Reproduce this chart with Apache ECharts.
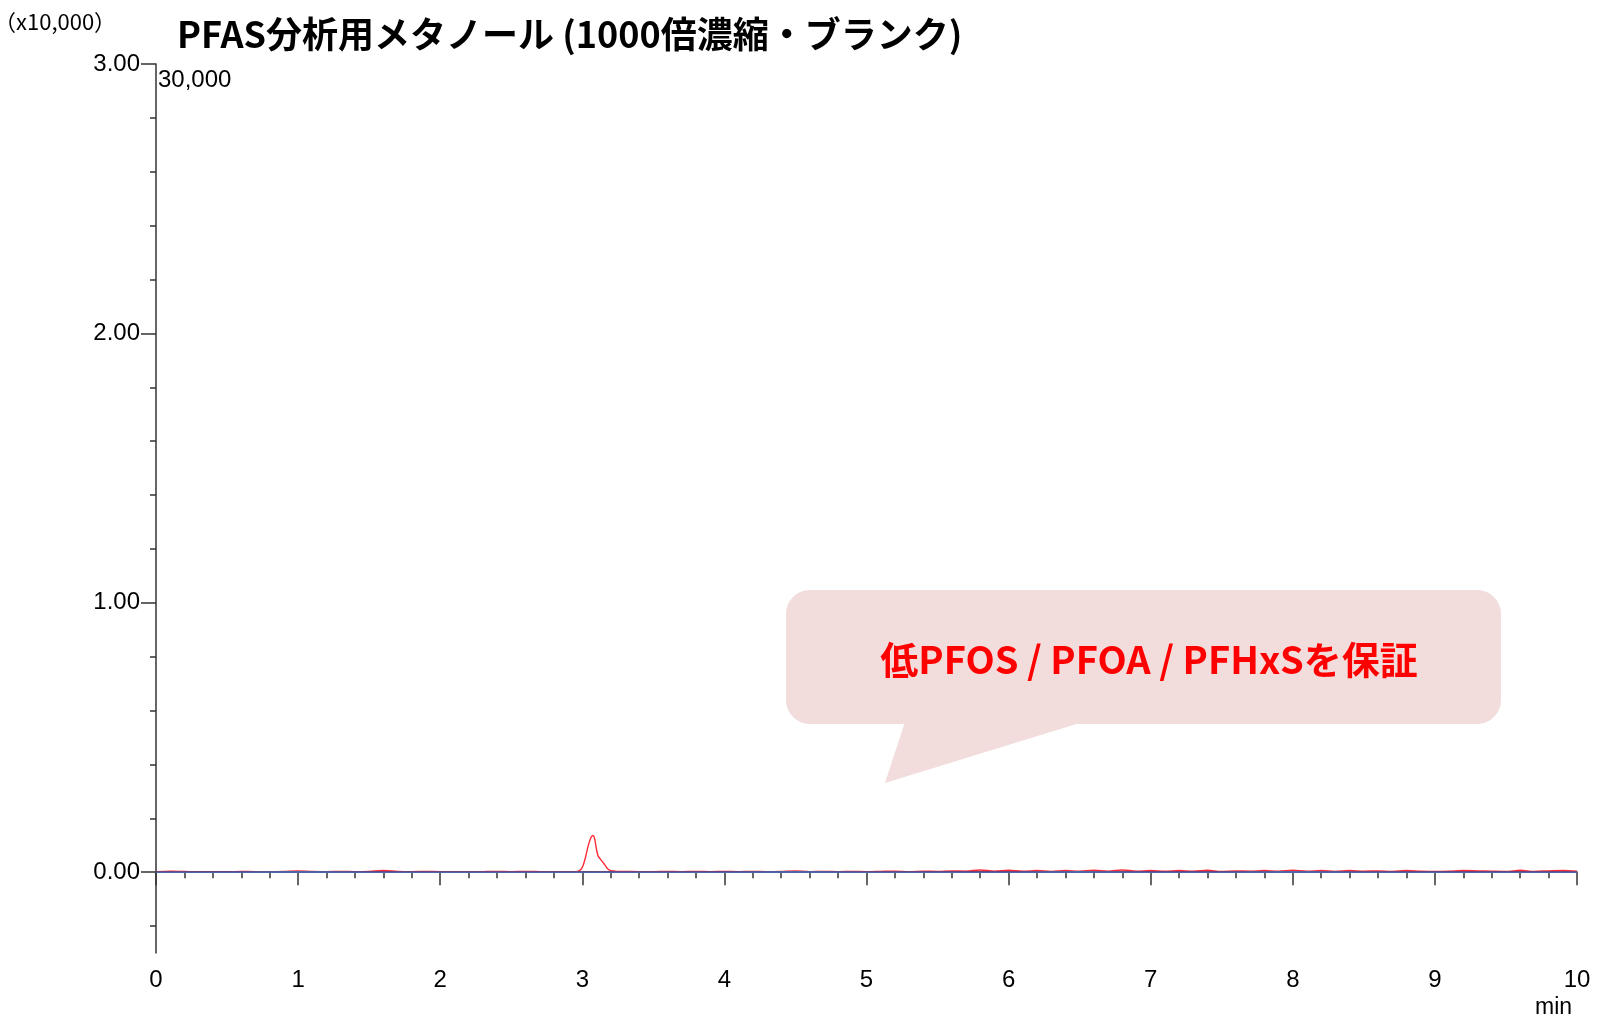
<!DOCTYPE html>
<html>
<head>
<meta charset="utf-8">
<style>
html,body{margin:0;padding:0;background:#fff;}
#chart{width:1600px;height:1021px;}
</style>
<script src="https://cdn.jsdelivr.net/npm/echarts@6/dist/echarts.min.js"></script>
</head>
<body>
<div id="chart"></div>
<script>
// ---- data (intensity in units of x10,000; time in min) ----
const titleText = 'PFAS分析用メタノール (1000倍濃縮・ブランク)';
const calloutText = '低PFOS / PFOA / PFHxSを保証';
const yMajorTicks = [0, 1, 2, 3];
const yMinorTicks = [-0.2, 0.2, 0.4, 0.6, 0.8, 1.2, 1.4, 1.6, 1.8, 2.2, 2.4, 2.6, 2.8];
const yTickLabels = ['0.00', '1.00', '2.00', '3.00'];

const redTime = [0.0,0.1,0.2,0.3,0.4,0.5,0.6,0.7,0.8,0.9,1.0,1.1,1.2,1.3,1.4,1.5,1.6,1.7,1.8,1.9,2.0,2.1,2.2,2.3,2.4,2.5,2.6,2.7,2.8,2.9,
  2.95,2.98,3.00,3.02,3.04,3.06,3.075,3.085,3.10,3.11,3.125,3.14,3.16,3.18,3.20,3.23,3.26,
  3.3,3.4,3.5,3.6,3.7,3.8,3.9,4.0,4.1,4.2,4.3,4.4,4.5,4.6,4.7,4.8,4.9,5.0,5.1,5.2,5.3,5.4,5.5,5.6,5.7,5.8,5.9,
  6.0,6.1,6.2,6.3,6.4,6.5,6.6,6.7,6.8,6.9,7.0,7.1,7.2,7.3,7.4,7.5,7.6,7.7,7.8,7.9,
  8.0,8.1,8.2,8.3,8.4,8.5,8.6,8.7,8.8,8.9,9.0,9.1,9.2,9.3,9.4,9.5,9.6,9.7,9.8,9.9,10.0];
const redValue = [0.002,0.004,0.003,0.001,0.002,0.001,0.003,0.002,0.002,0.003,0.005,0.003,0.002,0.003,0.002,0.003,0.006,0.003,0.002,0.003,0.002,0.002,0.001,0.002,0.003,0.002,0.003,0.002,0.001,0.002,
  0.002,0.006,0.018,0.050,0.095,0.128,0.136,0.128,0.085,0.062,0.050,0.040,0.026,0.012,0.006,0.004,0.003,
  0.003,0.002,0.002,0.003,0.002,0.003,0.002,0.003,0.002,0.003,0.002,0.003,0.005,0.002,0.003,0.002,0.003,0.002,0.003,0.004,0.002,0.004,0.003,0.005,0.004,0.008,0.004,
  0.007,0.004,0.006,0.003,0.006,0.004,0.007,0.004,0.008,0.004,0.006,0.004,0.006,0.004,0.007,0.003,0.005,0.004,0.006,0.004,
  0.007,0.004,0.006,0.003,0.006,0.004,0.005,0.003,0.006,0.004,0.003,0.004,0.006,0.005,0.004,0.003,0.007,0.003,0.005,0.006,0.004];

const baseTime = [0.0,0.5,1.0,1.5,2.0,2.5,3.0,3.5,4.0,4.5,5.0,5.5,6.0,6.5,7.0,7.5,8.0,8.5,9.0,9.5,10.0];
const purpleValue = [0.001,0.002,0.001,0.002,0.001,0.001,0.001,0.001,0.002,0.002,0.001,0.002,0.002,0.001,0.002,0.002,0.002,0.001,0.002,0.002,0.001];
const blueValue = [0.000,0.000,0.001,0.000,0.000,0.000,0.000,0.000,0.000,0.001,0.000,0.000,0.000,0.001,0.000,0.000,0.001,0.000,0.000,0.000,0.000];

const pairs = (t, v) => t.map((x, i) => [x, v[i]]);

const chart = echarts.init(document.getElementById('chart'));
const axisFont = 'Liberation Sans, Arial, sans-serif';
const option = {
  animation: false,
  backgroundColor: '#ffffff',
  title: {
    text: titleText,
    left: 172, top: 11,
    textStyle: {fontSize: 36, fontWeight: 'bold', color: '#000', fontFamily: 'Noto Sans CJK JP'}
  },
  grid: {left: 156, right: 23, top: 64, bottom: 68, containLabel: false},
  xAxis: {
    type: 'value', min: 0, max: 10, interval: 1,
    axisLine: {show: true, lineStyle: {color: '#333', width: 1.5}},
    axisTick: {show: true, length: 13, lineStyle: {color: '#333', width: 1.5}},
    minorTick: {show: true, splitNumber: 5, length: 6, lineStyle: {color: '#333', width: 1.5}},
    splitLine: {show: false},
    axisLabel: {fontSize: 24, color: '#000', margin: 15, fontFamily: axisFont}
  },
  yAxis: [{
    type: 'value', min: -0.3, max: 3,
    axisLine: {show: true, onZero: false, lineStyle: {color: '#333', width: 1.5}},
    axisTick: {show: true, length: 15, customValues: yMajorTicks, lineStyle: {color: '#333', width: 1.5}},
    splitLine: {show: false},
    axisLabel: {
      fontSize: 24, color: '#000', margin: 16, fontFamily: axisFont,
      customValues: yMajorTicks,
      formatter: v => yTickLabels[yMajorTicks.indexOf(Math.round(v))] || ''
    }
  }, {
    type: 'value', min: -0.3, max: 3, position: 'left', offset: 0,
    axisLine: {show: false},
    axisTick: {show: true, length: 6, customValues: yMinorTicks, lineStyle: {color: '#333', width: 1.5}},
    axisLabel: {show: false},
    splitLine: {show: false}
  }],
  series: [
    {type: 'line', name: 'red', data: pairs(redTime, redValue), showSymbol: false, smooth: 0.3,
     lineStyle: {color: '#ff2b36', width: 1.4}, z: 3},
    {type: 'line', name: 'purple', data: pairs(baseTime, purpleValue), showSymbol: false,
     lineStyle: {color: '#8a1d55', width: 1.2}, z: 4},
    {type: 'line', name: 'blue', data: pairs(baseTime, blueValue), showSymbol: false,
     lineStyle: {color: '#4a68a8', width: 1.6}, z: 5}
  ],
  graphic: [
    {type: 'text', left: -6, top: 11, style: {text: '（x10,000）', fontSize: 22, fill: '#000', fontFamily: 'Noto Sans CJK JP'}},
    {type: 'text', left: 158, top: 68, style: {text: '30,000', fontSize: 24, fill: '#000', fontFamily: axisFont}},
    {type: 'text', left: 1535, top: 996, style: {text: 'min', fontSize: 23, fill: '#000', fontFamily: axisFont}},
    {type: 'group', children: [
      {type: 'polygon', shape: {points: [[905, 722], [1083, 722], [885, 783]]}, style: {fill: '#f2dcdc'}},
      {type: 'rect', shape: {x: 786, y: 590, width: 715, height: 134, r: 24}, style: {fill: '#f2dcdc'}},
      {type: 'text', x: 1149, y: 660, style: {text: calloutText, fontSize: 38, fontWeight: 'bold', fill: '#ff0000',
        fontFamily: 'Noto Sans CJK JP', align: 'center', verticalAlign: 'middle'}}
    ]}
  ]
};
chart.setOption(option);
</script>
</body>
</html>
